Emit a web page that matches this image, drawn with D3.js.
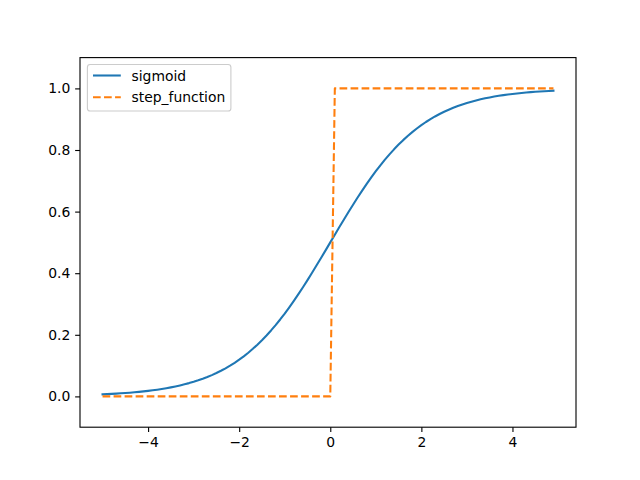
<!DOCTYPE html>
<html><head><meta charset="utf-8">
<script src="https://cdn.jsdelivr.net/npm/d3@7"></script>
<style>body{margin:0;background:#fff}svg{display:block}text{font-family:"DejaVu Sans",sans-serif}</style>
</head><body><svg id="c" width="640" height="480"></svg>
<script>
const xValues = [-5.0,-4.9,-4.8,-4.7,-4.6,-4.5,-4.4,-4.3,-4.2,-4.1,-4.0,-3.9,-3.8,-3.7,-3.6,-3.5,-3.4,-3.3,-3.2,-3.1,
-3.0,-2.9,-2.8,-2.7,-2.6,-2.5,-2.4,-2.3,-2.2,-2.1,-2.0,-1.9,-1.8,-1.7,-1.6,-1.5,-1.4,-1.3,-1.2,-1.1,
-1.0,-0.9,-0.8,-0.7,-0.6,-0.5,-0.4,-0.3,-0.2,-0.1,0.0,0.1,0.2,0.3,0.4,0.5,0.6,0.7,0.8,0.9,
1.0,1.1,1.2,1.3,1.4,1.5,1.6,1.7,1.8,1.9,2.0,2.1,2.2,2.3,2.4,2.5,2.6,2.7,2.8,2.9,
3.0,3.1,3.2,3.3,3.4,3.5,3.6,3.7,3.8,3.9,4.0,4.1,4.2,4.3,4.4,4.5,4.6,4.7,4.8,4.9];
const sigmoidValues = [0.006693,0.007392,0.008163,0.009013,0.009952,0.010987,0.012128,0.013386,0.014774,0.016303,
0.017986,0.019840,0.021881,0.024127,0.026597,0.029312,0.032295,0.035571,0.039166,0.043108,
0.047426,0.052154,0.057324,0.062973,0.069138,0.075858,0.083173,0.091123,0.099750,0.109097,
0.119203,0.130108,0.141851,0.154465,0.167982,0.182426,0.197816,0.214165,0.231475,0.249740,
0.268941,0.289050,0.310026,0.331812,0.354344,0.377541,0.401312,0.425557,0.450166,0.475021,
0.5,0.524979,0.549834,0.574443,0.598688,0.622459,0.645656,0.668188,0.689974,0.710950,
0.731059,0.750260,0.768525,0.785835,0.802184,0.817574,0.832018,0.845535,0.858149,0.869892,
0.880797,0.890903,0.900250,0.908877,0.916827,0.924142,0.930862,0.937027,0.942676,0.947846,
0.952574,0.956892,0.960834,0.964429,0.967705,0.970688,0.973403,0.975873,0.978119,0.980160,
0.982014,0.983697,0.985226,0.986614,0.987872,0.989013,0.990048,0.990987,0.991837,0.992608];
const stepValues = [0,0,0,0,0,0,0,0,0,0,0,0,0,0,0,0,0,0,0,0,0,0,0,0,0,0,0,0,0,0,0,0,0,0,0,0,0,0,0,0,0,0,0,0,0,0,0,0,0,0,0,
1,1,1,1,1,1,1,1,1,1,1,1,1,1,1,1,1,1,1,1,1,1,1,1,1,1,1,1,1,1,1,1,1,1,1,1,1,1,1,1,1,1,1,1,1,1,1,1,1];
const seriesNames = ["sigmoid","step_function"];
const seriesColors = ["#1f77b4","#ff7f0e"];
const xTicks = [-4,-2,0,2,4];
const yTicks = [0.0,0.2,0.4,0.6,0.8,1.0];
const yLimits = [-0.1,1.1];

const svg = d3.select("#c");
const L=80, R=576, T=57.6, B=427.2;
const xmin=d3.min(xValues), xmax=d3.max(xValues), pad=(xmax-xmin)*0.05;
const x = d3.scaleLinear().domain([xmin-pad, xmax+pad]).range([L,R]);
const y = d3.scaleLinear().domain(yLimits).range([B,T]);
const fmtX = d => (d<0?"\u2212":"")+Math.abs(d);
const fmtY = d => d.toFixed(1);

const clip = svg.append("clipPath").attr("id","cp").append("rect").attr("x",L).attr("y",T).attr("width",R-L).attr("height",B-T);
const line = d3.line().x((d,i)=>x(xValues[i])).y(d=>y(d));
const g = svg.append("g").attr("clip-path","url(#cp)");
g.append("path").attr("d",line(sigmoidValues)).attr("fill","none").attr("stroke",seriesColors[0]).attr("stroke-width",2.08).attr("stroke-linecap","square").attr("stroke-linejoin","round");
g.append("path").attr("d",line(stepValues)).attr("fill","none").attr("stroke",seriesColors[1]).attr("stroke-width",2.08).attr("stroke-dasharray","7.7,3.33").attr("stroke-linejoin","round");

const xa = svg.append("g").attr("transform",`translate(0,${B})`).call(d3.axisBottom(x).tickValues(xTicks).tickFormat(fmtX).tickSizeOuter(0).tickSize(4.86).tickPadding(4.86));
const ya = svg.append("g").attr("transform",`translate(${L},0)`).call(d3.axisLeft(y).tickValues(yTicks).tickFormat(fmtY).tickSizeOuter(0).tickSize(4.86).tickPadding(4.86));
[xa,ya].forEach(a=>{a.select(".domain").remove();a.selectAll("line").attr("stroke","#000").attr("stroke-width",1.11);a.selectAll("text").attr("font-size",13.9).attr("fill","#000").attr("font-family","DejaVu Sans, sans-serif");});
svg.append("rect").attr("x",L).attr("y",T).attr("width",R-L).attr("height",B-T).attr("fill","none").attr("stroke","#000").attr("stroke-width",1.11);

// legend
const lg = svg.append("g");
lg.append("rect").attr("x",87.4).attr("y",64.5).attr("width",143.5).attr("height",46.5).attr("rx",2.8).attr("fill","#fff").attr("fill-opacity",0.8).attr("stroke","#cccccc").attr("stroke-width",1.11);
seriesNames.forEach((n,i)=>{
  const yy = 75.5 + i*21.7;
  lg.append("line").attr("x1",93).attr("x2",120.8).attr("y1",yy).attr("y2",yy).attr("stroke",seriesColors[i]).attr("stroke-width",2.08).attr("stroke-dasharray",i?"7.7,3.33":null);
  lg.append("text").attr("x",131.5).attr("y",yy+5).attr("font-size",13.9).text(n);
});
</script></body></html>
